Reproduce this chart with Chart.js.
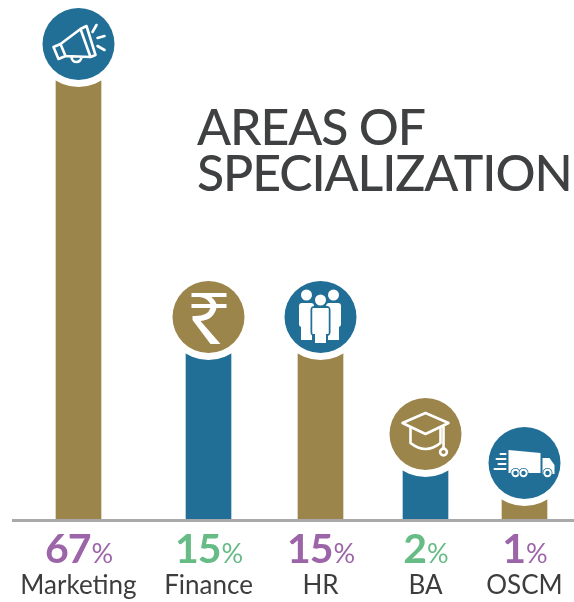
<!DOCTYPE html>
<html lang="en">
<head>
  <meta charset="UTF-8">
  <title>Areas of Specialization</title>
  <script src="https://cdn.jsdelivr.net/npm/chart.js"></script>
  <style>
    body { margin: 0; background: #fff; }
    #wrap { width: 574px; height: 602px; }
  </style>
</head>
<body>
  <div id="wrap"><canvas id="chart"></canvas></div>
  <script>
    const categories = ['Marketing', 'Finance', 'HR', 'BA', 'OSCM'];
    const percentages = [67, 15, 15, 2, 1];
    // the infographic is not drawn to scale, so bar lengths are read off separately
    const barLengths = [475, 202, 202, 85, 56];
    const titleLines = ['AREAS OF', 'SPECIALIZATION'];

    // uneven column placement on the 0-574 axis
    const columnCentres = [78.5, 208.5, 320.5, 425.5, 524.5];

    const GOLD = '#9c854b', BLUE = '#216f96', PURPLE = '#9b65a8', GREEN = '#67bb85', INK = '#3d3d3d';
    const barColors = [GOLD, BLUE, GOLD, BLUE, GOLD];
    const badgeColors = [BLUE, GOLD, BLUE, GOLD, BLUE];
    const percentColors = [PURPLE, GREEN, PURPLE, GREEN, PURPLE];
    const FONT = 'Lato, sans-serif';

    function megaphone(c) {
      c.lineWidth = 2.6;
      c.strokeStyle = '#fff';
      c.lineJoin = 'round';
      c.lineCap = 'round';
      c.beginPath();
      c.moveTo(-25, 3); c.lineTo(-20, 15); c.lineTo(-13, 12); c.lineTo(-18, 0); c.closePath();
      c.moveTo(-18, 0); c.lineTo(2, -15); c.lineTo(12, 13); c.lineTo(-13, 12);
      c.moveTo(2, -15); c.lineTo(8, -18); c.lineTo(17, 11); c.lineTo(12, 13);
      c.moveTo(-7, 13); c.arc(-2, 13, 5, Math.PI, 0, true);
      c.moveTo(14, -12); c.lineTo(18, -19);
      c.moveTo(19, -6); c.lineTo(26, -8);
      c.moveTo(19, 2); c.lineTo(26, 6);
      c.stroke();
    }

    function rupee(c) {
      c.fillStyle = '#fff';
      c.beginPath();
      c.moveTo(-17, -24); c.lineTo(18, -24); c.lineTo(18, -20); c.lineTo(3, -20);
      c.quadraticCurveTo(7, -16, 8, -13); c.lineTo(18, -13); c.lineTo(18, -9); c.lineTo(8, -9);
      c.quadraticCurveTo(5, 3, -8, 4);
      c.lineTo(12, 27); c.lineTo(2, 27); c.lineTo(-16, 3); c.lineTo(-16, -1);
      c.quadraticCurveTo(-1, 0, 2, -9); c.lineTo(-17, -9); c.lineTo(-17, -13); c.lineTo(2, -13);
      c.quadraticCurveTo(-1, -19, -9, -20); c.lineTo(-17, -20);
      c.closePath();
      c.fill();
    }

    function sidePerson(c, x) {
      c.beginPath();
      c.arc(x, -22, 5.5, 0, Math.PI * 2);
      c.fill();
      c.beginPath();
      c.roundRect(x - 7.5, -14, 15, 24, 3);
      c.fill();
      c.fillRect(x - 5.5, 6, 11, 17);
    }

    function people(c) {
      c.fillStyle = '#fff';
      sidePerson(c, -14);
      sidePerson(c, 13);
      c.strokeStyle = badgeColors[2];
      c.lineWidth = 2;
      c.beginPath();
      c.arc(0, -17, 6.5, 0, Math.PI * 2);
      c.fill(); c.stroke();
      c.beginPath();
      c.roundRect(-9, -10, 18, 28, 3);
      c.rect(-6.5, 14, 13, 13);
      c.fill(); c.stroke();
      c.fillRect(-8, -9, 16, 26);
      c.fillRect(-5.5, 12, 11, 14);
    }

    function gradCap(c) {
      c.strokeStyle = '#fff';
      c.lineWidth = 2.6;
      c.lineJoin = 'round';
      c.lineCap = 'round';
      c.beginPath();
      c.moveTo(-23, -11); c.lineTo(0, -21); c.lineTo(23, -11); c.lineTo(0, 0); c.closePath();
      c.moveTo(-15, -7); c.lineTo(-15, 9);
      c.quadraticCurveTo(0, 21, 15, 9); c.lineTo(15, -7);
      c.moveTo(18, -8); c.lineTo(18, 14);
      c.stroke();
      c.beginPath();
      c.arc(18, 18, 3.4, 0, Math.PI * 2);
      c.stroke();
    }

    function truck(c) {
      c.fillStyle = '#fff';
      c.strokeStyle = '#fff';
      c.lineWidth = 2;
      c.lineCap = 'round';
      c.beginPath();
      c.moveTo(-16, -13); c.lineTo(16, -10); c.lineTo(16, 10); c.lineTo(-16, 10); c.closePath();
      c.fill();
      c.beginPath();
      c.moveTo(18, -5); c.lineTo(25, -5); c.lineTo(30, 2); c.lineTo(30, 11); c.lineTo(18, 11); c.closePath();
      c.fill();
      c.beginPath();
      c.moveTo(-24, -9); c.lineTo(-19, -9);
      c.moveTo(-28, -4); c.lineTo(-19, -4);
      c.moveTo(-26, 1); c.lineTo(-19, 1);
      c.moveTo(-30, 6); c.lineTo(-19, 6);
      c.stroke();
      [-9, -1, 23].forEach(x => {
        c.fillStyle = badgeColors[4];
        c.beginPath(); c.arc(x, 10, 5, 0, Math.PI * 2); c.fill();
        c.strokeStyle = '#fff';
        c.beginPath(); c.arc(x, 10, 3.2, 0, Math.PI * 2); c.stroke();
      });
    }

    const icons = [megaphone, rupee, people, gradCap, truck];

    const infographic = {
      id: 'infographic',
      beforeDatasetsDraw(chart) {
        const c = chart.ctx, y = chart.chartArea.bottom;
        c.save();
        c.fillStyle = '#a9a9ac';
        c.fillRect(12, y, 562, 3);
        c.restore();
      },
      afterDatasetsDraw(chart) {
        const c = chart.ctx;
        chart.getDatasetMeta(0).data.forEach((bar, i) => {
          c.save();
          c.fillStyle = '#fff';
          c.beginPath(); c.arc(bar.x, bar.y, 43, 0, Math.PI * 2); c.fill();
          c.fillStyle = badgeColors[i];
          c.beginPath(); c.arc(bar.x, bar.y, 36, 0, Math.PI * 2); c.fill();
          c.translate(bar.x, bar.y);
          icons[i](c);
          c.restore();

          // percentage: large bold number with a small % beside it
          c.save();
          const num = String(percentages[i]);
          c.textBaseline = 'alphabetic';
          c.textAlign = 'left';
          c.fillStyle = percentColors[i];
          c.letterSpacing = '-1px';
          c.font = 'bold 41px ' + FONT;
          const nw = c.measureText(num).width;
          c.letterSpacing = '0px';
          c.font = '27px ' + FONT;
          const pw = c.measureText('%').width;
          const left = bar.x - (nw + pw) / 2;
          c.letterSpacing = '-1px';
          c.font = 'bold 41px ' + FONT;
          c.fillText(num, left, 563);
          c.letterSpacing = '0px';
          c.font = '27px ' + FONT;
          c.fillText('%', left + nw + 1, 563);
          c.restore();
        });

        c.save();
        c.fillStyle = '#3f4041';
        c.font = '500 50px ' + FONT;
        c.letterSpacing = '-1.1px';
        c.textBaseline = 'alphabetic';
        c.textAlign = 'left';
        c.fillText(titleLines[0], 197, 145);
        c.fillText(titleLines[1], 197, 191);
        c.restore();
      }
    };

    new Chart(document.getElementById('chart'), {
      type: 'bar',
      data: {
        datasets: [{
          data: barLengths.map((v, i) => ({ x: columnCentres[i], y: v })),
          backgroundColor: barColors,
          barThickness: 45
        }]
      },
      options: {
        responsive: true,
        maintainAspectRatio: false,
        animation: false,
        layout: { padding: 0 },
        plugins: { legend: { display: false }, tooltip: { enabled: false } },
        scales: {
          x: {
            type: 'linear',
            offset: false,
            min: 0,
            max: 574,
            grid: { display: false },
            border: { display: false },
            afterFit(scale) {
              // keep the edge labels from pulling the axis inwards
              scale.height = 83;
              scale.paddingLeft = 0;
              scale.paddingRight = 0;
            },
            afterBuildTicks(scale) { scale.ticks = columnCentres.map(v => ({ value: v })); },
            ticks: {
              autoSkip: false,
              maxRotation: 0,
              padding: 43,
              color: INK,
              font: { family: 'Lato, sans-serif', size: 26 },
              callback(value) { return categories[columnCentres.indexOf(value)]; }
            }
          },
          y: { display: false, min: 0, max: 519 }
        }
      },
      plugins: [infographic]
    });
  </script>
</body>
</html>
